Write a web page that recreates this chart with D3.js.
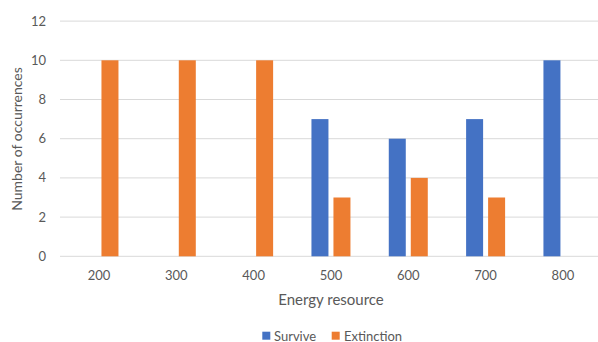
<!DOCTYPE html>
<html><head><meta charset="utf-8">
<script src="https://cdn.jsdelivr.net/npm/d3@7"></script>
<style>body{margin:0;background:#fff}svg{display:block}</style>
</head><body>
<script>
const categories = ["200","300","400","500","600","700","800"];
const survive = [0,0,0,7,6,7,10];
const extinction = [10,10,10,3,4,3,0];
const yTicks = [0,2,4,6,8,10,12];
const seriesNames = ["Survive","Extinction"];
const colors = ["#4472C4","#ED7D31"];

const W=598,H=342;
const svg=d3.select("body").append("svg").attr("width",W).attr("height",H);
const font="Lato, 'Open Sans', sans-serif";
const x=d3.scaleBand().domain(categories).range([60.3,601.6]);
const y=d3.scaleLinear().domain([0,12]).range([256.3,21.1]);
const bw=17, gap=5;

svg.append("g").selectAll("line").data(yTicks).join("line")
  .attr("x1",60).attr("x2",602).attr("y1",d=>y(d)).attr("y2",d=>y(d))
  .attr("stroke","#d9d9d9").attr("stroke-width",1);

svg.append("g").selectAll("text").data(yTicks).join("text")
  .attr("x",46).attr("y",d=>y(d)+4.5).attr("text-anchor","end")
  .attr("font-family",font).attr("font-size",13).attr("fill","#595959").text(d=>d);

const data=[survive,extinction];
data.forEach((vals,si)=>{
  svg.append("g").selectAll("rect").data(categories.map((c,i)=>({c,v:vals[i]})).filter(d=>d.v>0)).join("rect")
    .attr("x",d=>x(d.c)+x.bandwidth()/2+(si===0?-gap/2-bw:gap/2))
    .attr("width",bw)
    .attr("y",d=>y(d.v)).attr("height",d=>y(0)-y(d.v))
    .attr("fill",colors[si]);
});

svg.append("g").selectAll("text").data(categories).join("text")
  .attr("x",d=>x(d)+x.bandwidth()/2).attr("y",280).attr("text-anchor","middle")
  .attr("font-family",font).attr("font-size",13).attr("fill","#595959").text(d=>d);

svg.append("text").attr("x",331).attr("y",305).attr("text-anchor","middle")
  .attr("font-family",font).attr("font-size",15).attr("fill","#595959").text("Energy resource");

svg.append("text").attr("transform","translate(22,139) rotate(-90)").attr("text-anchor","middle")
  .attr("font-family",font).attr("font-size",14).attr("fill","#595959").text("Number of occurrences");

const lg=[{x:262.3,t:274},{x:331.7,t:344}];
seriesNames.forEach((n,i)=>{
  svg.append("rect").attr("x",lg[i].x).attr("y",331.7).attr("width",8).attr("height",8).attr("fill",colors[i]);
  svg.append("text").attr("x",lg[i].t).attr("y",340.5).attr("font-family",font).attr("font-size",13)
    .attr("fill","#595959").text(n);
});
</script>
</body></html>
